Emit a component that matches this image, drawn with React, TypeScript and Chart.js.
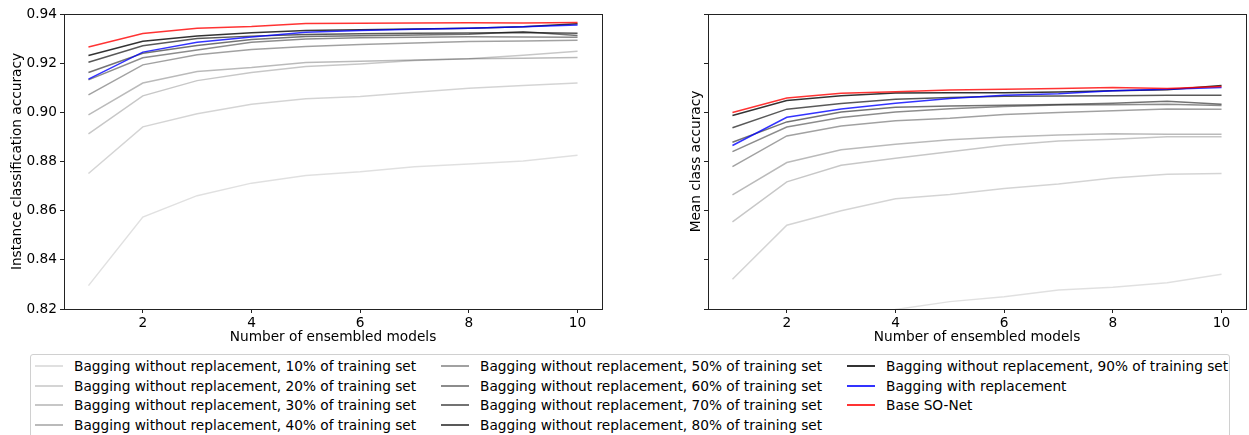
import React, { useEffect, useRef } from 'react';
import { Chart, registerables } from 'chart.js';

Chart.register(...registerables);

const FONT = '"DejaVu Sans", sans-serif';
const FONT_SIZE = 13.7;

const ensembleSizes = [1, 2, 3, 4, 5, 6, 7, 8, 9, 10];
const xTicks = [2, 4, 6, 8, 10];
const yTicks = [0.82, 0.84, 0.86, 0.88, 0.9, 0.92, 0.94];

const seriesLabels = [
  'Bagging without replacement, 10% of training set',
  'Bagging without replacement, 20% of training set',
  'Bagging without replacement, 30% of training set',
  'Bagging without replacement, 40% of training set',
  'Bagging without replacement, 50% of training set',
  'Bagging without replacement, 60% of training set',
  'Bagging without replacement, 70% of training set',
  'Bagging without replacement, 80% of training set',
  'Bagging without replacement, 90% of training set',
  'Bagging with replacement',
  'Base SO-Net',
];

const seriesColors = [
  'rgba(0,0,0,0.12)',
  'rgba(0,0,0,0.17)',
  'rgba(0,0,0,0.22)',
  'rgba(0,0,0,0.27)',
  'rgba(0,0,0,0.37)',
  'rgba(0,0,0,0.45)',
  'rgba(0,0,0,0.55)',
  'rgba(0,0,0,0.65)',
  'rgba(0,0,0,0.80)',
  'rgba(0,0,255,0.80)',
  'rgba(255,0,0,0.80)',
];

// Instance classification accuracy (left panel)
const inst10 = [0.8295, 0.8574, 0.8661, 0.8712, 0.8743, 0.8758, 0.8779, 0.879, 0.8802, 0.8825];
const inst20 = [0.8751, 0.8941, 0.8994, 0.9033, 0.9055, 0.9064, 0.9082, 0.9098, 0.9109, 0.9119];
const inst30 = [0.8912, 0.9067, 0.9129, 0.9162, 0.9186, 0.9197, 0.9211, 0.9218, 0.9232, 0.9248];
const inst40 = [0.899, 0.9119, 0.9166, 0.9182, 0.9203, 0.9208, 0.9213, 0.9218, 0.922, 0.9223];
const inst50 = [0.9071, 0.9193, 0.9234, 0.9256, 0.9268, 0.9276, 0.9282, 0.9288, 0.929, 0.9293];
const inst60 = [0.9132, 0.9222, 0.9254, 0.9285, 0.9298, 0.9303, 0.9305, 0.9307, 0.9306, 0.9305];
const inst70 = [0.9162, 0.924, 0.9272, 0.9296, 0.9308, 0.9312, 0.9315, 0.9318, 0.9328, 0.9313];
const inst80 = [0.9204, 0.9271, 0.93, 0.931, 0.9317, 0.932, 0.9322, 0.9323, 0.9325, 0.9322];
const inst90 = [0.9231, 0.9289, 0.9311, 0.9324, 0.9333, 0.9336, 0.9339, 0.9342, 0.9348, 0.936];
const instRepl = [0.9135, 0.9245, 0.9285, 0.9306, 0.9326, 0.9333, 0.9338, 0.9342, 0.9348, 0.9355];
const instBase = [0.9266, 0.9321, 0.9342, 0.9349, 0.9361, 0.9362, 0.9363, 0.9364, 0.9363, 0.9365];

// Mean class accuracy (right panel)
const mean10 = [0.773, 0.804, 0.814, 0.8198, 0.823, 0.825, 0.8277, 0.8288, 0.8307, 0.8341];
const mean20 = [0.8321, 0.8541, 0.86, 0.8648, 0.8666, 0.869, 0.8708, 0.8733, 0.8748, 0.8751];
const mean30 = [0.8554, 0.8717, 0.8785, 0.8813, 0.884, 0.8866, 0.8883, 0.8891, 0.8901, 0.8901];
const mean40 = [0.8664, 0.8796, 0.8848, 0.887, 0.8888, 0.89, 0.8908, 0.8913, 0.8911, 0.8911];
const mean50 = [0.8779, 0.8904, 0.8944, 0.8966, 0.8976, 0.8991, 0.8999, 0.9006, 0.9014, 0.9013];
const mean60 = [0.884, 0.894, 0.8979, 0.9001, 0.9015, 0.9024, 0.903, 0.9031, 0.9033, 0.9028];
const mean70 = [0.8878, 0.8961, 0.9001, 0.9021, 0.9026, 0.9029, 0.9032, 0.9037, 0.9045, 0.9033];
const mean80 = [0.8937, 0.9013, 0.9036, 0.9053, 0.906, 0.9065, 0.9066, 0.9067, 0.9069, 0.9069];
const mean90 = [0.8987, 0.9048, 0.9067, 0.9079, 0.908, 0.908, 0.9083, 0.9088, 0.9092, 0.9109];
const meanRepl = [0.8865, 0.898, 0.9014, 0.9037, 0.9056, 0.9069, 0.9076, 0.9088, 0.9094, 0.9101];
const meanBase = [0.8999, 0.9058, 0.9078, 0.9084, 0.9091, 0.9094, 0.9097, 0.9101, 0.9097, 0.9105];

const instanceSeries = [inst10, inst20, inst30, inst40, inst50, inst60, inst70, inst80, inst90, instRepl, instBase];
const meanSeries = [mean10, mean20, mean30, mean40, mean50, mean60, mean70, mean80, mean90, meanRepl, meanBase];

const boxPlugin = {
  id: 'axesBox',
  afterDraw(chart: any) {
    const { ctx, chartArea: a } = chart;
    ctx.save();
    ctx.strokeStyle = '#222';
    ctx.lineWidth = 1;
    ctx.strokeRect(Math.round(a.left) + 0.5, Math.round(a.top) + 0.5, Math.round(a.right - a.left), Math.round(a.bottom - a.top));
    ctx.restore();
  },
};

function makeConfig(series: number[][], yTitle: string, showYLabels: boolean, yAxisWidth: number, yTitlePad: number, rightPad: number) {
  const font = { family: FONT, size: FONT_SIZE };
  return {
    type: 'line' as const,
    data: {
      datasets: series.map((vals, i) => ({
        label: seriesLabels[i],
        data: ensembleSizes.map((x, j) => ({ x, y: vals[j] })),
        borderColor: seriesColors[i],
        backgroundColor: seriesColors[i],
        borderWidth: 1.5,
        pointRadius: 0,
        tension: 0,
        order: series.length - i,
      })),
    },
    options: {
      animation: false as const,
      responsive: false,
      devicePixelRatio: 1,
      layout: { padding: { top: 14, right: rightPad, bottom: 0, left: 0 } },
      plugins: { legend: { display: false }, tooltip: { enabled: false } },
      scales: {
        x: {
          type: 'linear' as const,
          min: 0.55,
          max: 10.45,
          afterBuildTicks: (s: any) => { s.ticks = xTicks.map((v) => ({ value: v })); },
          afterFit: (s: any) => { s.height = 37; },
          ticks: { color: '#000', font, padding: 2, maxRotation: 0 },
          grid: { drawOnChartArea: false, drawTicks: true, tickLength: 4, tickColor: '#222', lineWidth: 1 },
          border: { display: false },
          title: { display: true, text: 'Number of ensembled models', color: '#000', font, padding: { top: 0, bottom: 0 } },
        },
        y: {
          type: 'linear' as const,
          min: 0.82,
          max: 0.94,
          afterBuildTicks: (s: any) => { s.ticks = yTicks.map((v) => ({ value: v })); },
          afterFit: (s: any) => { s.width = yAxisWidth; },
          ticks: { display: showYLabels, color: '#000', font, padding: 3, callback: (v: any) => Number(v).toFixed(2) },
          grid: { drawOnChartArea: false, drawTicks: true, tickLength: 4, tickColor: '#222', lineWidth: 1 },
          border: { display: false },
          title: { display: true, text: yTitle, color: '#000', font, padding: { top: yTitlePad, bottom: 0 } },
        },
      },
    },
    plugins: [boxPlugin],
  };
}

function PanelChart(props: { series: number[][]; yTitle: string; showYLabels: boolean; yAxisWidth: number; yTitlePad: number; rightPad: number; left: number; width: number }) {
  const ref = useRef<HTMLCanvasElement | null>(null);
  useEffect(() => {
    if (!ref.current) return;
    const chart = new Chart(ref.current, makeConfig(props.series, props.yTitle, props.showYLabels, props.yAxisWidth, props.yTitlePad, props.rightPad) as any);
    return () => chart.destroy();
  }, []);
  return (
    <canvas
      ref={ref}
      width={props.width}
      height={346}
      style={{ position: 'absolute', left: props.left, top: 0, width: props.width, height: 346 }}
    />
  );
}

function Legend() {
  const colX = [4, 410, 816];
  const rowY = [11, 30.5, 50, 69.5];
  return (
    <div
      style={{
        position: 'absolute',
        left: 30,
        top: 354,
        width: 1200,
        height: 110,
        border: '1px solid #d0d0d0',
        borderRadius: 3,
        boxSizing: 'border-box',
        fontFamily: FONT,
        fontSize: FONT_SIZE,
        color: '#000',
      }}
    >
      {seriesLabels.map((label, i) => {
        const col = Math.floor(i / 4);
        const row = i % 4;
        return (
          <div key={i} style={{ position: 'absolute', left: colX[col], top: Math.round(rowY[row] - 10), height: 20, whiteSpace: 'nowrap' }}>
            <div style={{ position: 'absolute', left: 0, top: 9, width: 28, height: 2, background: seriesColors[i] }} />
            <div style={{ position: 'absolute', left: 39, top: 0, lineHeight: '20px' }}>{label}</div>
          </div>
        );
      })}
    </div>
  );
}

export default function App() {
  return (
    <div style={{ position: 'fixed', left: 0, top: 0, width: 1249, height: 435, background: '#fff', overflow: 'hidden' }}>
      <PanelChart series={instanceSeries} yTitle="Instance classification accuracy" showYLabels={true} yAxisWidth={64} yTitlePad={9} rightPad={18} left={0} width={620} />
      <PanelChart series={meanSeries} yTitle="Mean class accuracy" showYLabels={false} yAxisWidth={88} yTitlePad={68} rightPad={3} left={620} width={629} />
      <Legend />
    </div>
  );
}
